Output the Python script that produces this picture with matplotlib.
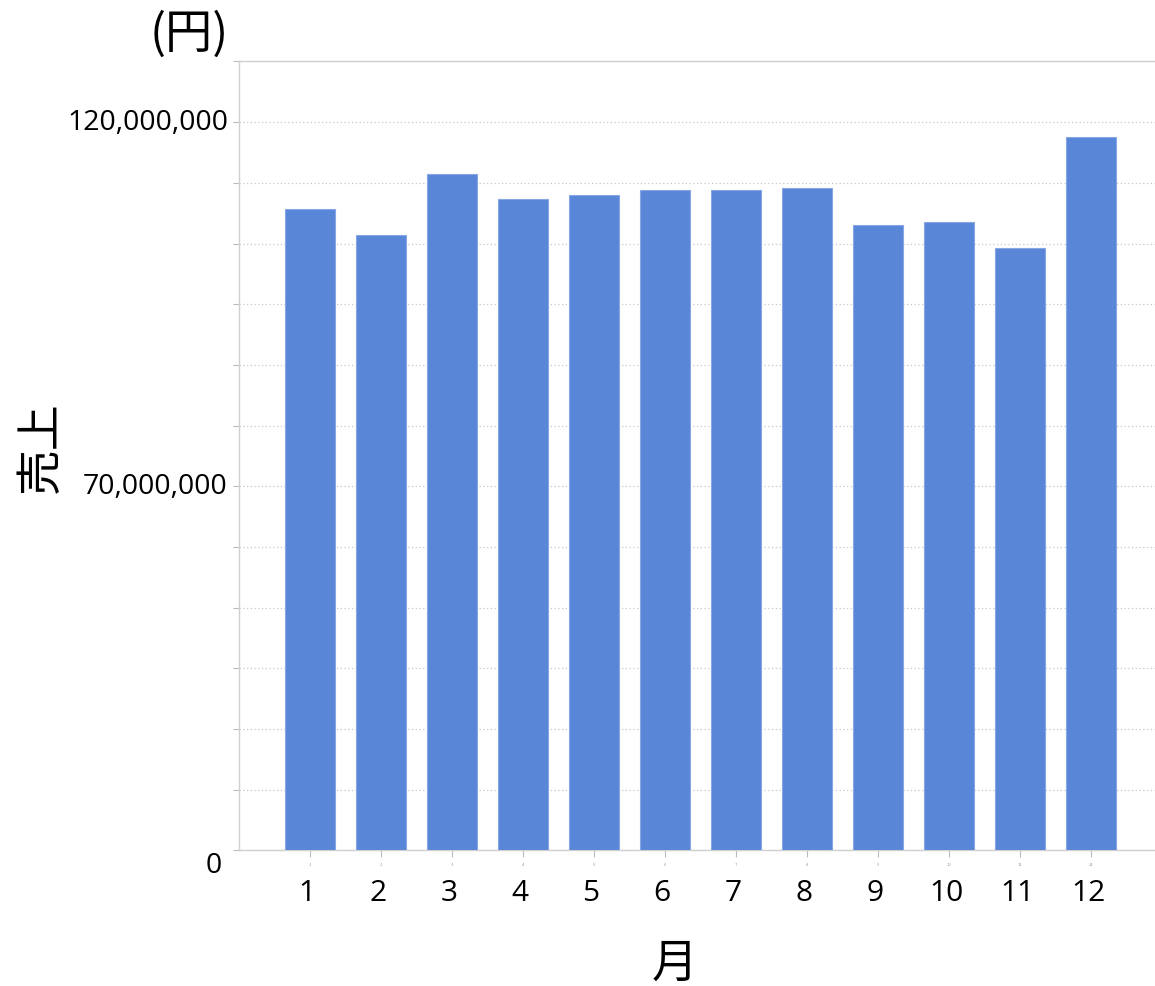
import matplotlib
matplotlib.use("Agg")
import matplotlib.pyplot as plt
import matplotlib.transforms as mtransforms

plt.rcParams['font.family'] = ['Noto Sans CJK JP', 'DejaVu Sans']

# Monthly sales (yen)
months = [1, 2, 3, 4, 5, 6, 7, 8, 9, 10, 11, 12]
month_labels = ['1', '2', '3', '4', '5', '6', '7', '8', '9', '10', '11', '12']
sales = [105_700_000, 101_400_000, 111_500_000, 107_400_000, 108_000_000,
         108_900_000, 108_900_000, 109_200_000, 103_100_000, 103_600_000,
         99_300_000, 117_500_000]

# Y-axis labelled positions and their texts
ytick_label_pos = [0, 60_000_000, 120_000_000]
ytick_label_text = ['0', '70,000,000', '120,000,000']

fig = plt.figure(figsize=(11.55, 9.87), dpi=100)
ax = fig.add_axes([0.2069, 0.1373, 0.7931, 0.7994])

ax.bar(months, sales, width=0.7, color='#5a86d8', edgecolor='#86a6e4',
       linewidth=0.8, zorder=3)

ax.set_xlim(0, 12.9)
ax.set_ylim(0, 130_000_000)

# Gridlines every 10M
ax.set_yticks(range(0, 130_000_001, 10_000_000))
ax.set_yticklabels([])
ax.yaxis.grid(True, linestyle=(0, (1, 2)), color='#c8c8c8', linewidth=0.9, zorder=0)
ax.tick_params(axis='y', length=4, color='#bbbbbb', width=0.8)

for pos, txt in zip(ytick_label_pos, ytick_label_text):
    if pos == 0:
        off = (-17, -15)
    else:
        off = (-11, 0)
    ax.annotate(txt, xy=(0, pos), xycoords=('axes fraction', 'data'),
                xytext=off, textcoords='offset pixels',
                ha='right', va='center', fontsize=20.5, family=['Open Sans'])

# X ticks with faint small labels, and main month labels below
ax.set_xticks(months)
ax.set_xticklabels(month_labels, fontsize=3, color='#999999')
ax.tick_params(axis='x', length=5, color='#bbbbbb', width=0.8, pad=3)

trans = mtransforms.blended_transform_factory(ax.transData, ax.transAxes)
for m, lab in zip(months, month_labels):
    ax.annotate(lab, xy=(m, 0), xycoords=trans, xytext=(-3, -42),
                textcoords='offset pixels', ha='center', va='center',
                fontsize=21.5, family=['Open Sans'])

for side in ['left', 'top', 'bottom']:
    ax.spines[side].set_color('#d0d0d0')
    ax.spines[side].set_linewidth(1.0)
ax.spines['right'].set_visible(False)

fig.text(0.035, 0.547, '売上', rotation=90, ha='center', va='center', fontsize=33)
fig.text(0.584, 0.024, '月', ha='center', va='center', fontsize=33)
fig.text(0.164, 0.965, '(円)', ha='center', va='center', fontsize=34)

fig.savefig('out.png', dpi=100)
